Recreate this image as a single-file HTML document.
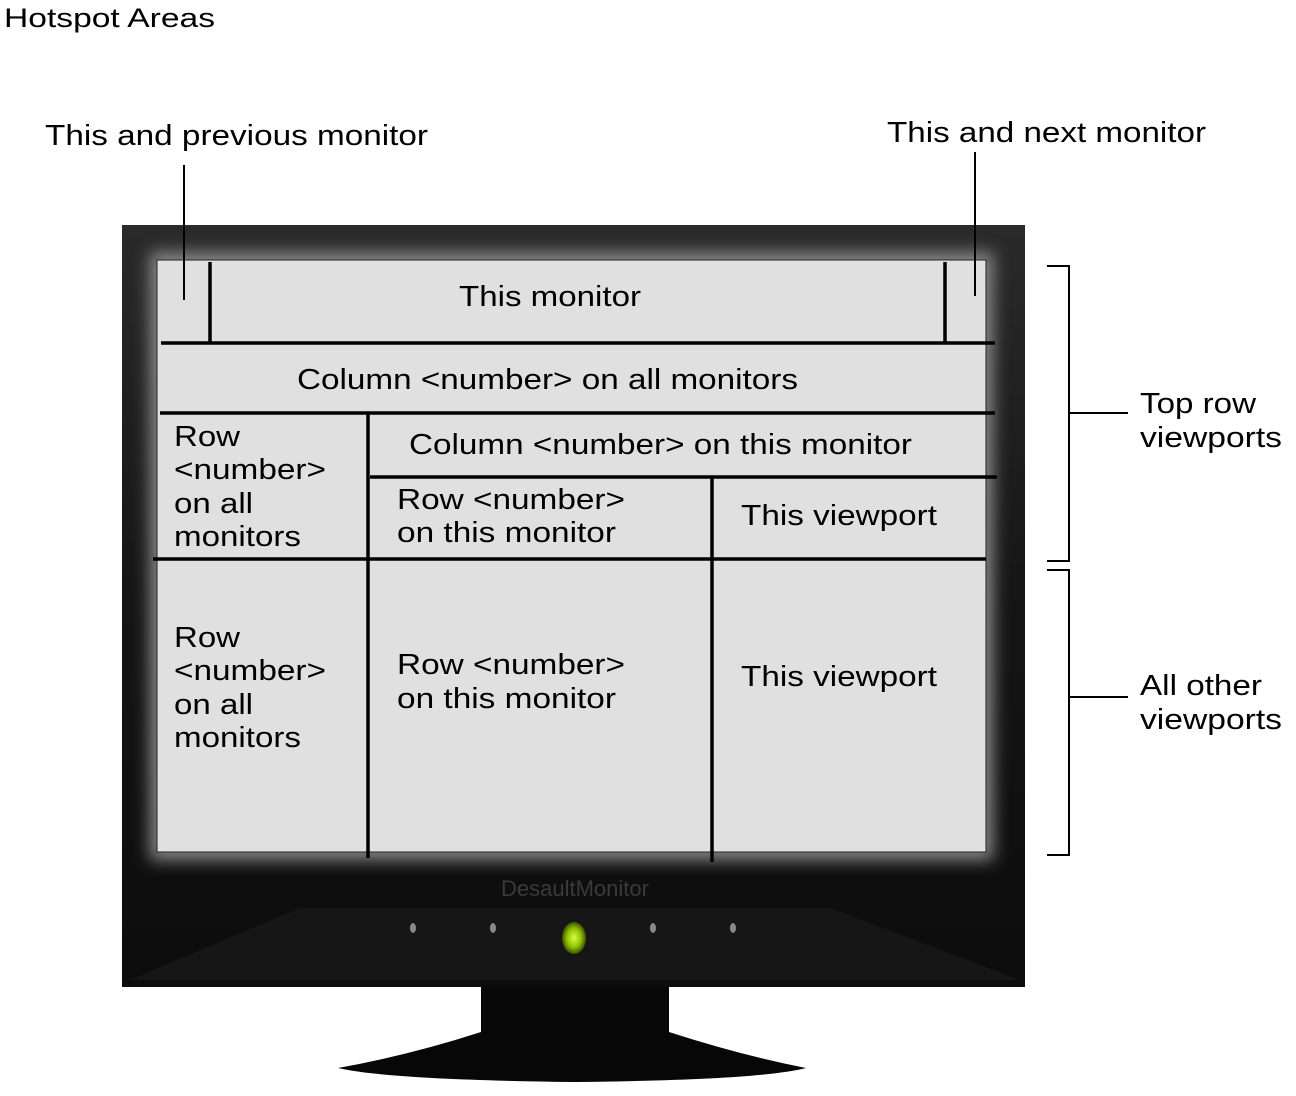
<!DOCTYPE html>
<html><head><style>
body{margin:0;background:#fff;}
svg{display:block}
text{font-family:"Liberation Sans",sans-serif;fill:#000}
</style></head><body>
<svg width="1296" height="1096" viewBox="0 0 1296 1096">
<defs>
<linearGradient id="bz" x1="0" y1="0" x2="0" y2="1">
<stop offset="0" stop-color="#2a2a2a"/><stop offset="0.5" stop-color="#151515"/><stop offset="1" stop-color="#0c0c0c"/>
</linearGradient>
<radialGradient id="led"><stop offset="0" stop-color="#d8ff40"/><stop offset="0.6" stop-color="#8ec000"/><stop offset="1" stop-color="#3a5000"/></radialGradient>
<filter id="gl"><feGaussianBlur stdDeviation="8"/></filter>
</defs>
<g lengthAdjust="spacingAndGlyphs">
<text x="4" y="27" font-size="27" textLength="211" lengthAdjust="spacingAndGlyphs">Hotspot Areas</text>
<text x="45" y="145" font-size="29" textLength="383" lengthAdjust="spacingAndGlyphs">This and previous monitor</text>
<text x="887" y="142" font-size="29" textLength="319" lengthAdjust="spacingAndGlyphs">This and next monitor</text>
<text x="1140" y="413" font-size="29" textLength="116" lengthAdjust="spacingAndGlyphs">Top row</text>
<text x="1140" y="447" font-size="29" textLength="142" lengthAdjust="spacingAndGlyphs">viewports</text>
<text x="1140" y="695" font-size="29" textLength="122" lengthAdjust="spacingAndGlyphs">All other</text>
<text x="1140" y="729" font-size="29" textLength="142" lengthAdjust="spacingAndGlyphs">viewports</text>
</g>
<path d="M481 985 L669 985 L669 1032 Q740 1055 806 1068 Q760 1080 575 1082 Q390 1080 338 1068 Q410 1055 481 1032 Z" fill="#070707"/>
<rect x="122" y="225" width="903" height="762" fill="url(#bz)"/>
<rect x="150" y="252" width="843" height="608" fill="#888" filter="url(#gl)"/>
<path d="M300 908 L830 908 L1020 980 L130 980 Z" fill="#161616"/>
<rect x="157" y="260" width="829" height="592" fill="#e0e0e0" stroke="#222" stroke-width="1"/>
<text x="575" y="896" font-size="22" text-anchor="middle" style="fill:#3a3a3a">DesaultMonitor</text>
<ellipse cx="413" cy="928" rx="3" ry="5" fill="#888"/>
<ellipse cx="493" cy="928" rx="3" ry="5" fill="#888"/>
<ellipse cx="653" cy="928" rx="3" ry="5" fill="#888"/>
<ellipse cx="733" cy="928" rx="3" ry="5" fill="#888"/>
<ellipse cx="574" cy="938" rx="12" ry="16" fill="url(#led)"/>
<g stroke="#000" stroke-width="3.5" fill="none">
<line x1="161" y1="343" x2="995" y2="343"/>
<line x1="210" y1="262" x2="210" y2="343"/>
<line x1="945" y1="262" x2="945" y2="343"/>
<line x1="160" y1="413" x2="995" y2="413"/>
<line x1="368" y1="413" x2="368" y2="858"/>
<line x1="370" y1="477" x2="997" y2="477"/>
<line x1="712" y1="477" x2="712" y2="862"/>
<line x1="153" y1="559" x2="986" y2="559"/>
</g>
<g stroke="#000" stroke-width="2" fill="none">
<line x1="184" y1="165" x2="184" y2="300"/>
<line x1="975" y1="152" x2="975" y2="296"/>
<path d="M1047 266 H1069 V561 H1047"/>
<line x1="1069" y1="413" x2="1128" y2="413"/>
<path d="M1047 570 H1069 V855 H1047"/>
<line x1="1069" y1="697" x2="1128" y2="697"/>
</g>
<g font-size="29">
<text x="459" y="306" textLength="182" lengthAdjust="spacingAndGlyphs">This monitor</text>
<text x="297" y="389" textLength="501" lengthAdjust="spacingAndGlyphs">Column &lt;number&gt; on all monitors</text>
<text x="409" y="454" textLength="503" lengthAdjust="spacingAndGlyphs">Column &lt;number&gt; on this monitor</text>
<text x="174" y="446" textLength="66" lengthAdjust="spacingAndGlyphs">Row</text>
<text x="174" y="479" textLength="152" lengthAdjust="spacingAndGlyphs">&lt;number&gt;</text>
<text x="174" y="513" textLength="79" lengthAdjust="spacingAndGlyphs">on all</text>
<text x="174" y="546" textLength="127" lengthAdjust="spacingAndGlyphs">monitors</text>
<text x="397" y="509" textLength="228" lengthAdjust="spacingAndGlyphs">Row &lt;number&gt;</text>
<text x="397" y="542" textLength="219" lengthAdjust="spacingAndGlyphs">on this monitor</text>
<text x="741" y="525" textLength="196" lengthAdjust="spacingAndGlyphs">This viewport</text>
<text x="174" y="647" textLength="66" lengthAdjust="spacingAndGlyphs">Row</text>
<text x="174" y="680" textLength="152" lengthAdjust="spacingAndGlyphs">&lt;number&gt;</text>
<text x="174" y="714" textLength="79" lengthAdjust="spacingAndGlyphs">on all</text>
<text x="174" y="747" textLength="127" lengthAdjust="spacingAndGlyphs">monitors</text>
<text x="397" y="674" textLength="228" lengthAdjust="spacingAndGlyphs">Row &lt;number&gt;</text>
<text x="397" y="708" textLength="219" lengthAdjust="spacingAndGlyphs">on this monitor</text>
<text x="741" y="686" textLength="196" lengthAdjust="spacingAndGlyphs">This viewport</text>
</g>
</svg>
</body></html>
